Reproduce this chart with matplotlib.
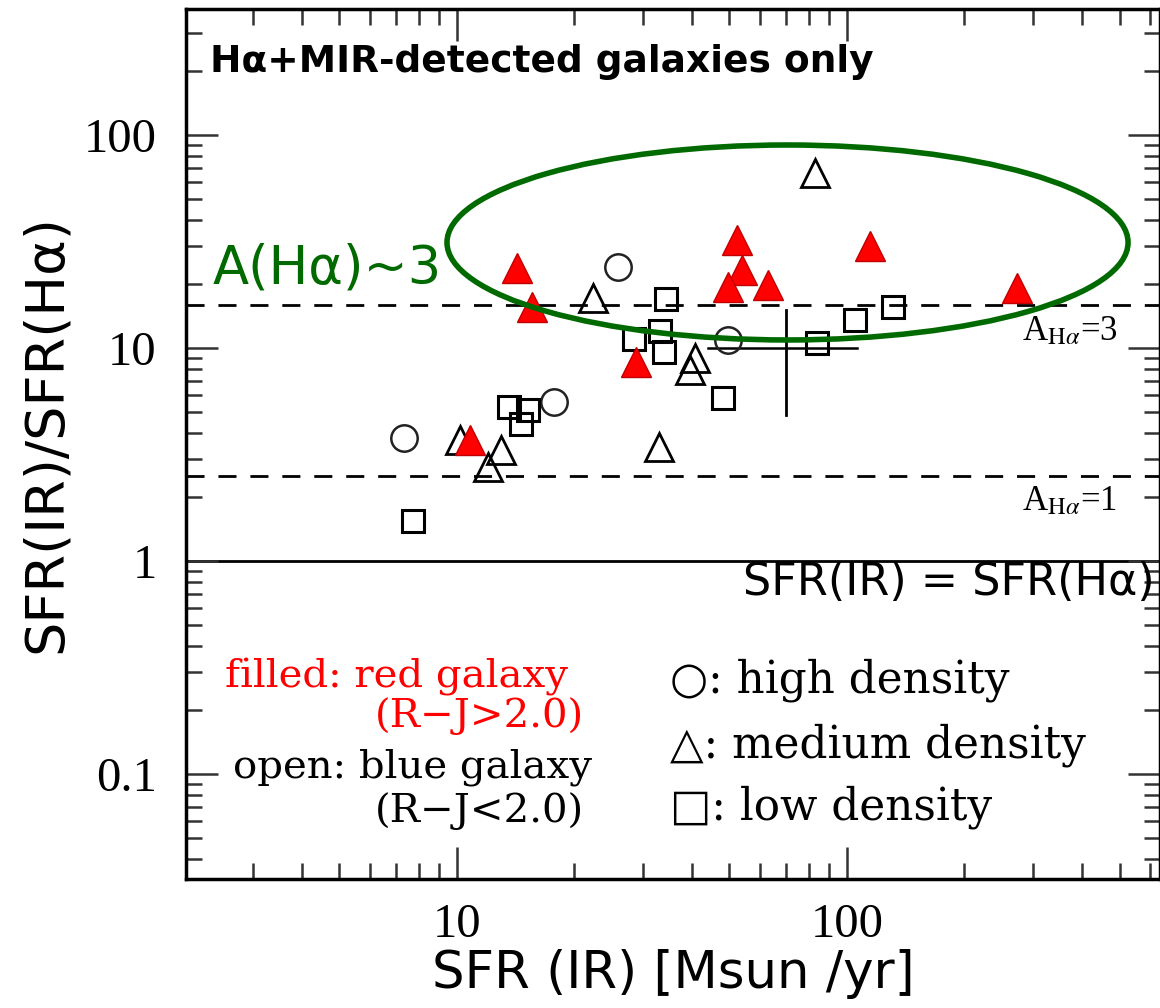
import numpy as np
import matplotlib
matplotlib.use("Agg")
import matplotlib.pyplot as plt
from matplotlib.patches import Ellipse
from matplotlib.ticker import FixedLocator, FixedFormatter, LogLocator, NullFormatter

plt.rcParams['mathtext.fontset'] = 'stix'

# SFR(IR) [Msun/yr] vs SFR(IR)/SFR(Halpha), split by colour and environment
red_x = [14.3, 15.6, 28.8, 10.8, 52.2, 53.8, 49.5, 62.7, 114.5, 272.9]
red_y = [23.8, 15.6, 8.6, 3.70, 32.1, 23.3, 19.3, 19.7, 30.1, 19.1]

med_x = [22.3, 82.8, 40.8, 39.6, 10.2, 13.0, 12.0, 33.0]
med_y = [17.2, 66.3, 9.0, 7.9, 3.70, 3.32, 2.76, 3.43]

high_x = [25.9, 49.5, 7.3, 17.7]
high_y = [24.0, 10.9, 3.78, 5.57]

low_x = [34.4, 33.1, 28.4, 33.9, 48.1, 13.6, 15.2, 14.6, 7.7, 83.8, 104.8, 131.2]
low_y = [17.0, 12.0, 11.0, 9.6, 5.8, 5.3, 5.1, 4.4, 1.54, 10.5, 13.5, 15.6]

# typical error bar
err_x, err_y = 70.0, 10.0
err_x_lo, err_x_hi = 44.0, 106.0
err_y_lo, err_y_hi = 4.84, 15.1

# extinction levels A(Halpha) = 1 and 3 -> ratio 10^(0.4 A)
a_levels = [1, 3]

xticks = [10, 100]
xticklabels = ['10', '100']
yticks = [0.1, 1, 10, 100]
yticklabels = ['0.1', '1', '10', '100']

fig = plt.figure(figsize=(11.6, 10.08), dpi=100)
ax = fig.add_axes([0.1603, 0.1280, 0.8397, 0.8631])
ax.set_xscale('log')
ax.set_yscale('log')
ax.set_xlim(2.02, 635)
ax.set_ylim(0.0321, 390)

# reference lines
ax.axhline(1, color='black', lw=2, zorder=1)
for a in a_levels:
    ax.axhline(10 ** (0.4 * a), color='black', lw=2, ls=(0, (6.5, 5)), zorder=1)

# error bar cross
ax.plot([err_x, err_x], [err_y_lo, err_y_hi], color='black', lw=2, zorder=2)
ax.plot([err_x_lo, err_x_hi], [err_y, err_y], color='black', lw=1.8, zorder=2)

ax.plot(high_x, high_y, 'o', ms=19, mfc='none', mec='#222222', mew=1.8, zorder=3)
ax.plot(med_x, med_y, '^', ms=19.5, mfc='none', mec='black', mew=2, zorder=3)
ax.plot(low_x, low_y, 's', ms=16, mfc='none', mec='black', mew=2.2, zorder=3)
ax.plot(red_x, red_y, '^', ms=21, mfc='#ff0000', mec='#c00000', mew=1, zorder=4)

# A(Halpha)~3 ellipse
ell = Ellipse((0.6176, 0.7316), 0.6992, 0.2241, transform=ax.transAxes,
              fill=False, ec='#006a00', lw=4, zorder=5)
ax.add_patch(ell)

# ticks
ax.xaxis.set_major_locator(FixedLocator(xticks))
ax.xaxis.set_major_formatter(FixedFormatter(xticklabels))
ax.yaxis.set_major_locator(FixedLocator(yticks))
ax.yaxis.set_major_formatter(FixedFormatter(yticklabels))
for axis in (ax.xaxis, ax.yaxis):
    axis.set_minor_locator(LogLocator(base=10, subs=np.arange(2, 10), numticks=20))
    axis.set_minor_formatter(NullFormatter())
ax.tick_params(which='both', direction='in', top=True, right=True, color='#333333')
ax.tick_params(which='major', length=23, width=1.8)
ax.tick_params(which='minor', length=11.5, width=1.8)
ax.tick_params(axis='x', which='major', pad=17)
ax.tick_params(axis='y', which='major', pad=21)
for lab in ax.get_xticklabels() + ax.get_yticklabels():
    lab.set_fontfamily('Liberation Serif')
    lab.set_fontsize(35)
for sp in ax.spines.values():
    sp.set_linewidth(2.5)

ax.set_xlabel('SFR (IR) [Msun /yr]', fontsize=37, fontfamily='DejaVu Sans', labelpad=2)
ax.set_ylabel('SFR(IR)/SFR(Hα)', fontsize=39, fontfamily='DejaVu Sans', labelpad=8)
ax.yaxis.set_label_coords(-0.117, 0.512)

def fx(px):
    return (px - 186) / 974

def fy(py):
    return (879 - py) / 870

ax.text(fx(210), fy(72), 'Hα+MIR-detected galaxies only', transform=ax.transAxes,
        fontsize=27, fontweight='bold', fontfamily='DejaVu Sans', va='baseline')
ax.text(fx(213), fy(284), 'A(Hα)~3', transform=ax.transAxes, color='#006a00',
        fontsize=38, fontfamily='DejaVu Sans', va='baseline', zorder=6)
ax.text(fx(1155), fy(595), 'SFR(IR) = SFR(Hα)', transform=ax.transAxes,
        fontsize=32, fontfamily='DejaVu Sans', va='baseline', ha='right')
ax.text(fx(1022), fy(340), r'A$_{\mathrm{H}\alpha}$=3', transform=ax.transAxes,
        fontsize=25, fontfamily='Liberation Serif', va='baseline')
ax.text(fx(1022), fy(510), r'A$_{\mathrm{H}\alpha}$=1', transform=ax.transAxes,
        fontsize=25, fontfamily='Liberation Serif', va='baseline')

serif = ['DejaVu Serif', 'DejaVu Sans']
ax.text(fx(225), fy(688), 'filled: red galaxy', transform=ax.transAxes, color='#ff0000',
        fontsize=29, fontfamily=serif, va='baseline')
ax.text(fx(375), fy(727), '(R\u2212J>2.0)', transform=ax.transAxes, color='#ff0000',
        fontsize=29, fontfamily=serif, va='baseline')
ax.text(fx(233), fy(778), 'open: blue galaxy', transform=ax.transAxes,
        fontsize=29, fontfamily=serif, va='baseline')
ax.text(fx(375), fy(822), '(R\u2212J<2.0)', transform=ax.transAxes,
        fontsize=29, fontfamily=serif, va='baseline')
ax.text(fx(670), fy(693), '\u25cb: high density', transform=ax.transAxes,
        fontsize=31.5, fontfamily=serif, va='baseline')
ax.text(fx(670), fy(758), '\u25b3: medium density', transform=ax.transAxes,
        fontsize=31.5, fontfamily=serif, va='baseline')
ax.text(fx(670), fy(820), '\u25a1: low density', transform=ax.transAxes,
        fontsize=31.5, fontfamily=serif, va='baseline')

fig.savefig('out.png', dpi=100)
